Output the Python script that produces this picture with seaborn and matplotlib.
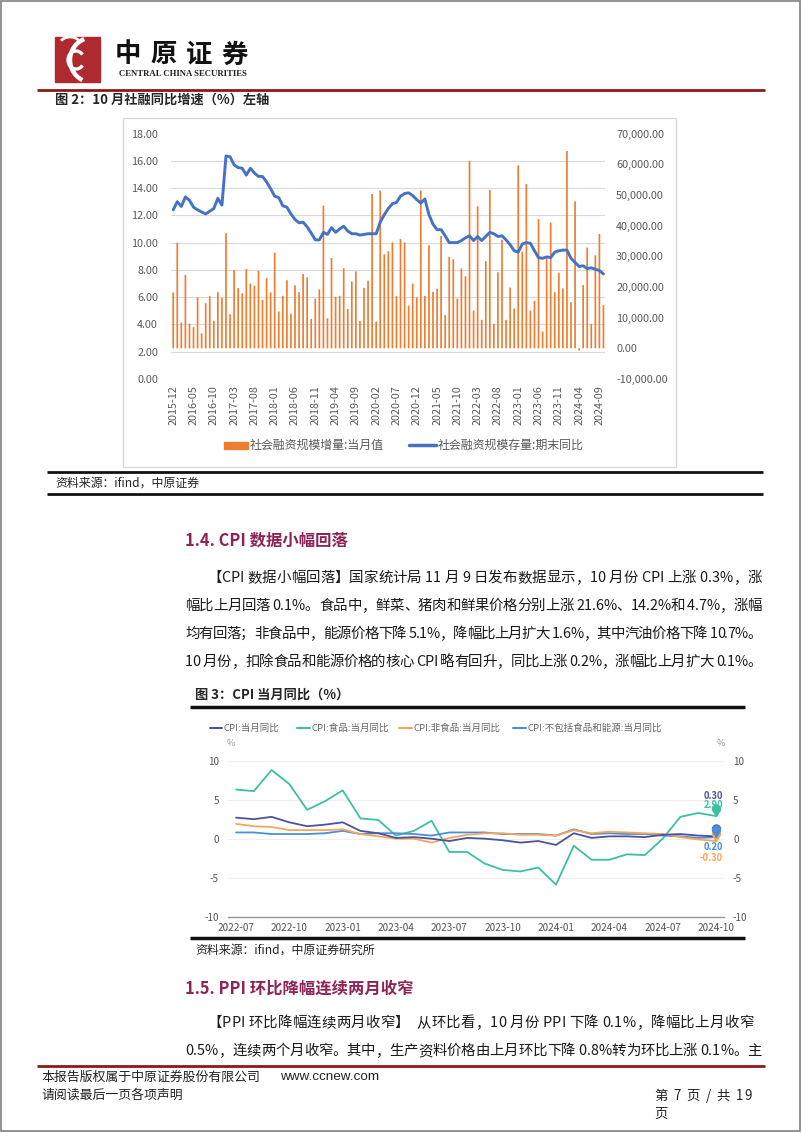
import numpy as np
import pandas as pd
import matplotlib
matplotlib.use('Agg')
import matplotlib.pyplot as plt
import seaborn as sns
from matplotlib.patches import Rectangle, Arc
from matplotlib.path import Path
from matplotlib.font_manager import FontProperties, findfont, get_font

# ---------------- 图2: 社会融资规模 (2015-12 ~ 2024-10) ----------------
tsf_months = pd.period_range('2015-12', '2024-10', freq='M').strftime('%Y-%m').tolist()
# 社会融资规模增量:当月值 (亿元, right axis)
tsf_flow = [18200,
            34400, 8400, 23900, 8000, 6900, 16600, 4900, 14700, 17000, 8900, 18300, 16500,
            37500, 11100, 25500, 19600, 17900, 25800, 21100, 20400, 25300, 15800, 22900, 18200,
            31200, 12000, 17100, 22200, 11300, 20500, 18300, 24200, 23100, 9600, 16200, 19200,
            46500, 9800, 29400, 16800, 17100, 26100, 12800, 21800, 25100, 8900, 19700, 22000,
            50300, 8700, 51400, 30600, 31600, 34500, 17000, 35600, 34500, 13900, 21100, 16600,
            51400, 17100, 33600, 18400, 19400, 36600, 10800, 29800, 29000, 16200, 26000, 23500,
            61100, 12300, 46300, 9300, 28400, 51600, 8000, 24800, 35400, 9300, 19800, 13000,
            59600, 31500, 53500, 12300, 15500, 42100, 5500, 29300, 41000, 18300, 24600, 19500,
            64300, 15000, 47900, -700, 20600, 32800, 8000, 30300, 37300, 14100]
# 社会融资规模存量:期末同比 (%, left axis)
tsf_yoy = [12.4,
           13.0, 12.65, 13.35, 13.1, 12.6, 12.4, 12.25, 12.1, 12.3, 12.5, 13.25, 12.75,
           16.35, 16.3, 15.7, 15.5, 15.45, 14.95, 15.45, 15.1, 14.85, 14.85, 14.45, 13.95,
           13.4, 13.3, 12.7, 12.6, 12.1, 11.7, 11.45, 11.5, 11.15, 10.7, 10.2, 10.2,
           10.75, 10.6, 11.1, 10.75, 11.0, 11.2, 10.85, 10.65, 10.65, 10.55, 10.6, 10.65,
           10.65, 10.65, 11.5, 12.05, 12.5, 12.85, 12.95, 13.4, 13.6, 13.65, 13.45, 13.15,
           12.9, 13.2, 12.05, 11.35, 10.95, 10.95, 10.5, 10.0, 10.0, 10.0, 10.15, 10.35,
           10.5, 10.15, 10.45, 10.15, 10.45, 10.75, 10.65, 10.45, 10.5, 10.2, 9.85, 9.4,
           9.3, 9.9, 10.0, 9.95, 9.4, 8.9, 8.85, 8.95, 8.9, 9.3, 9.4, 9.45,
           9.45, 8.85, 8.55, 8.25, 8.3, 8.1, 8.15, 8.05, 7.95, 7.7]

# ---------------- 图3: CPI 当月同比 (2022-07 ~ 2024-10) ----------------
cpi_months = pd.period_range('2022-07', '2024-10', freq='M').strftime('%Y-%m').tolist()
cpi_all = [2.7, 2.5, 2.8, 2.1, 1.6, 1.8, 2.1, 1.0, 0.7, 0.1, 0.2, 0.0, -0.3, 0.1,
           0.0, -0.2, -0.5, -0.3, -0.8, 0.7, 0.1, 0.3, 0.3, 0.2, 0.5, 0.6, 0.4, 0.3]
cpi_food = [6.3, 6.1, 8.8, 7.0, 3.7, 4.8, 6.2, 2.6, 2.4, 0.4, 1.0, 2.3, -1.7, -1.7,
            -3.2, -4.0, -4.2, -3.7, -5.9, -0.9, -2.7, -2.7, -2.0, -2.1, 0.0, 2.8, 3.3, 2.9]
cpi_nonfood = [1.9, 1.6, 1.5, 1.1, 1.1, 1.1, 1.2, 0.6, 0.3, 0.0, 0.0, -0.5, 0.1, 0.5,
               0.7, 0.7, 0.5, 0.5, 0.4, 1.1, 0.7, 0.9, 0.8, 0.7, 0.6, 0.2, -0.1, -0.3]
cpi_core = [0.8, 0.8, 0.6, 0.6, 0.6, 0.7, 1.0, 0.6, 0.7, 0.7, 0.6, 0.4, 0.8, 0.8,
            0.8, 0.6, 0.6, 0.6, 0.4, 1.2, 0.6, 0.7, 0.6, 0.6, 0.4, 0.3, 0.1, 0.2]
cpi_names = ['CPI:当月同比', 'CPI:食品:当月同比', 'CPI:非食品:当月同比', 'CPI:不包括食品和能源:当月同比']
cpi_colors = ['#4F5298', '#3DBFA3', '#F5A65B', '#4A8FD8']

# ---------------- page text ----------------
para1 = ["【CPI 数据小幅回落】国家统计局 11 月 9 日发布数据显示，10 月份 CPI 上涨 0.3%，涨",
         "幅比上月回落 0.1%。食品中，鲜菜、猪肉和鲜果价格分别上涨 21.6%、14.2%和 4.7%，涨幅",
         "均有回落；非食品中，能源价格下降 5.1%，降幅比上月扩大 1.6%，其中汽油价格下降 10.7%。",
         "10 月份，扣除食品和能源价格的核心 CPI 略有回升，同比上涨 0.2%，涨幅比上月扩大 0.1%。"]
para2 = ["【PPI 环比降幅连续两月收窄】  从环比看，10 月份 PPI 下降 0.1%，降幅比上月收窄",
         "0.5%，连续两个月收窄。其中，生产资料价格由上月环比下降 0.8%转为环比上涨 0.1%。主"]

W, H = 802, 1133
sns.set_theme(style='white')
plt.rcParams['font.family'] = ['Noto Sans CJK SC', 'DejaVu Sans']
plt.rcParams['axes.unicode_minus'] = False

fig = plt.figure(figsize=(W / 100, H / 100), dpi=100)
page = fig.add_axes([0, 0, 1, 1])
page.set_xlim(0, W)
page.set_ylim(H, 0)
page.axis('off')


def px_axes(x0, y0, x1, y1):
    ax = fig.add_axes([x0 / W, 1 - y1 / H, (x1 - x0) / W, (y1 - y0) / H])
    ax.set_facecolor('none')
    return ax


def hline(x0, x1, y, color, lw):
    page.plot([x0, x1], [y, y], color=color, lw=lw, solid_capstyle='butt')


def justify(x0, x1, y, s, size, color='#1a1a1a'):
    font = get_font(findfont(FontProperties(family='Noto Sans CJK SC')))
    font.set_size(size, 100)
    advs = [font.load_char(ord(c)).linearHoriAdvance / 65536 for c in s]
    extra = (x1 - x0 - sum(advs)) / (len(s) - 1)
    x = x0
    for c, a in zip(s, advs):
        if c != ' ':
            page.text(x, y, c, fontsize=size, color=color, ha='left', va='center')
        x += a + extra


# page frame
page.add_patch(Rectangle((1, 1), 799, 1130, fill=False, ec='#808080', lw=1.2))

# logo
page.add_patch(Rectangle((55, 37), 45, 45, color='#AE2A2F'))
page.add_patch(Arc((94, 60), 48, 46, theta1=120, theta2=245, color='white', lw=3.2))
page.add_patch(Arc((76, 60), 16, 18, theta1=40, theta2=320, color='white', lw=2.4))
page.add_patch(Arc((70, 44), 20, 14, theta1=200, theta2=340, color='white', lw=2))
for ch, cx in zip('中原证券', [128, 164, 199, 234]):
    page.text(cx, 55, ch, fontsize=19, fontweight='bold', ha='center', va='center', color='#111111')
page.text(182.5, 73.5, 'CENTRAL CHINA SECURITIES', fontsize=6.3, fontweight='bold',
          family='Liberation Serif', ha='center', va='center', color='#222222')
hline(37, 765, 90, '#8B1A1A', 2)

# ---- figure 2 ----
page.text(55, 100, '图 2：10 月社融同比增速（%）左轴', fontsize=9.5, fontweight='bold', va='center')
page.add_patch(Rectangle((123, 118), 553, 349, fill=False, ec='#D9D9D9', lw=1))

df1 = pd.DataFrame({'idx': np.arange(len(tsf_months)), 'month': tsf_months,
                    'flow': tsf_flow, 'yoy': tsf_yoy})
ax1 = px_axes(171.2, 133.5, 605.5, 379)
ax2 = ax1.twinx()
ax2.set_facecolor('none')
for v in range(0, 19, 2):
    ax2.axhline(-10000 + v * 80000 / 18, color='#D9D9D9', lw=0.8, zorder=0)
sns.barplot(data=df1, x='idx', y='flow', ax=ax2, color='#ED7D31', saturation=1,
            width=0.42, errorbar=None, zorder=2)
for p in ax2.patches:
    p.set_snap(False)
    p.set_linewidth(0)
sns.lineplot(data=df1, x='idx', y='yoy', ax=ax1, color='#4472C4', linewidth=2.1)
ax1.set_zorder(ax2.get_zorder() + 1)
ax1.patch.set_visible(False)
ax1.set_ylim(0, 18)
ax2.set_ylim(-10000, 70000)
ax1.set_xlim(-0.5, 106.5)
ax1.set_yticks(np.arange(0, 19, 2))
ax1.set_yticklabels([f'{v:.2f}' for v in np.arange(0, 19, 2)])
ax2.set_yticks(np.arange(-10000, 70001, 10000))
ax2.set_yticklabels([f'{v:,.2f}' for v in np.arange(-10000, 70001, 10000)])
ax1.set_xticks(np.arange(0, 107, 5))
ax1.set_xticklabels(tsf_months[::5], rotation=90)
ax1.tick_params(axis='y', length=0, pad=9.5, labelsize=7.8, colors='#595959')
ax2.tick_params(axis='y', length=0, pad=7.6, labelsize=7.8, colors='#595959')
ax1.tick_params(axis='x', length=0, pad=4.3, labelsize=7.8, colors='#595959')
for a in (ax1, ax2):
    a.set_xlabel('')
    a.set_ylabel('')
    for sp in a.spines.values():
        sp.set_visible(False)

# legend of figure 2
page.add_patch(Rectangle((223.6, 441.5), 24.4, 7, color='#ED7D31'))
page.text(250, 445, '社会融资规模增量:当月值', fontsize=8.6, color='#595959', va='center')
page.plot([409, 436], [445, 445], color='#4472C4', lw=2.5)
page.text(438, 445, '社会融资规模存量:期末同比', fontsize=8.6, color='#595959', va='center')

hline(47, 763, 472, '#111111', 2)
page.text(55, 483, '资料来源：ifind，中原证券', fontsize=8.6, va='center', color='#222222')
hline(47, 763, 494, '#111111', 2)

# ---- section 1.4 ----
page.text(185, 541, '1.4. CPI 数据小幅回落', fontsize=11.8, fontweight='bold',
          color='#8E2455', va='center')
for i, line in enumerate(para1):
    x0 = 207 if i == 0 else 185
    justify(x0, 762, 578 + i * 28, line, 10.4)

# ---- figure 3 ----
page.text(195, 695, '图 3：CPI 当月同比（%）', fontsize=9.5, fontweight='bold', va='center')
hline(190, 745, 707, '#111111', 2.5)

legend_pos = [(209.6, 224), (297, 311), (399, 413), (513, 527.5)]
for (lx, tx), name, col in zip(legend_pos, cpi_names, cpi_colors):
    page.plot([lx, lx + 12.5], [728, 728], color=col, lw=1.5)
    page.text(tx, 728, name, fontsize=6.8, color='#666666', va='center')
page.text(231, 743, '%', fontsize=6.5, color='#999999', ha='center', va='center')
page.text(721, 743, '%', fontsize=6.5, color='#999999', ha='center', va='center')

long = pd.DataFrame({'month': cpi_months, cpi_names[0]: cpi_all, cpi_names[1]: cpi_food,
                     cpi_names[2]: cpi_nonfood, cpi_names[3]: cpi_core})
long = long.melt(id_vars='month', var_name='series', value_name='value')
long['idx'] = long.groupby('series').cumcount()

ax3 = px_axes(227.5, 760.7, 724, 916.7)
for v in (10, 5, 0, -5):
    ax3.axhline(v, color='#EFEFEF', lw=0.8, zorder=0)
draw_order = [cpi_names[1], cpi_names[3], cpi_names[2], cpi_names[0]]
sns.lineplot(data=long, x='idx', y='value', hue='series', hue_order=draw_order,
             palette=dict(zip(cpi_names, cpi_colors)), linewidth=1.3, ax=ax3, legend=False)
ax3.set_xlim(-0.48, 27.45)
ax3.set_ylim(-10, 10)
ax3.set_yticks([-10, -5, 0, 5, 10])
ax3.set_xticks(np.arange(0, 28, 3))
ax3.set_xticklabels(cpi_months[::3])
ax3.tick_params(axis='both', length=0, labelsize=7.2, colors='#555555')
ax3.tick_params(axis='y', pad=6)
ax3.tick_params(axis='x', pad=4.5)
ax3.set_xlabel('')
ax3.set_ylabel('')
for name, sp in ax3.spines.items():
    sp.set_visible(name == 'bottom')
ax3.spines['bottom'].set_color('#8C96A8')
ax3.spines['bottom'].set_linewidth(1.0)
ax4 = ax3.twinx()
ax4.set_ylim(-10, 10)
ax4.set_yticks([-10, -5, 0, 5, 10])
ax4.tick_params(axis='y', length=0, pad=6.5, labelsize=7.2, colors='#555555')
for sp in ax4.spines.values():
    sp.set_visible(False)

# end-point pins and labels
ang = np.deg2rad(np.linspace(-50, 230, 40))
verts = [(0, 0)] + [(np.cos(a), 1.9 + np.sin(a)) for a in ang] + [(0, 0)]
pin = Path(verts, [Path.MOVETO] + [Path.LINETO] * (len(verts) - 2) + [Path.CLOSEPOLY])
last = {cpi_names[0]: cpi_all[-1], cpi_names[1]: cpi_food[-1],
        cpi_names[2]: cpi_nonfood[-1], cpi_names[3]: cpi_core[-1]}
label_off = {cpi_names[0]: (-2, 29), cpi_names[1]: (-2, 7.7),
             cpi_names[3]: (-2, -7.4), cpi_names[2]: (-3.6, -12.5)}
for name, col in zip(cpi_names, cpi_colors):
    ax3.annotate(f'{last[name]:.2f}', xy=(27, last[name]), xytext=label_off[name],
                 textcoords='offset points', ha='center', va='center', fontsize=6.8,
                 fontweight='bold', color=col, zorder=4)
for name in [cpi_names[0], cpi_names[2], cpi_names[3], cpi_names[1]]:
    col = cpi_colors[cpi_names.index(name)]
    ax3.scatter([27], [last[name]], marker=pin, s=272, color=col, zorder=5, clip_on=False)

hline(190, 745, 938, '#111111', 2.5)
page.text(195, 950, '资料来源：ifind，中原证券研究所', fontsize=8.6, va='center', color='#222222')

# ---- section 1.5 ----
page.text(185, 989, '1.5. PPI 环比降幅连续两月收窄', fontsize=11.8, fontweight='bold',
          color='#8E2455', va='center')
justify(207, 753, 1023, para2[0], 10.4)
justify(185, 762, 1051, para2[1], 10.4)

# ---- footer ----
hline(37, 765, 1065.5, '#8B1A1A', 2)
page.text(41, 1077, '本报告版权属于中原证券股份有限公司', fontsize=9.3, va='center', color='#222222')
page.text(280, 1077, 'www.ccnew.com', fontsize=9.7, family='Liberation Sans', va='center', color='#222222')
page.text(41, 1095, '请阅读最后一页各项声明', fontsize=9.3, va='center', color='#222222')
justify(654, 752, 1096, '第 7 页 / 共 19', 9.6, color='#222222')
page.text(654, 1114, '页', fontsize=9.6, va='center', color='#222222')

fig.savefig('out.png', dpi=100)
